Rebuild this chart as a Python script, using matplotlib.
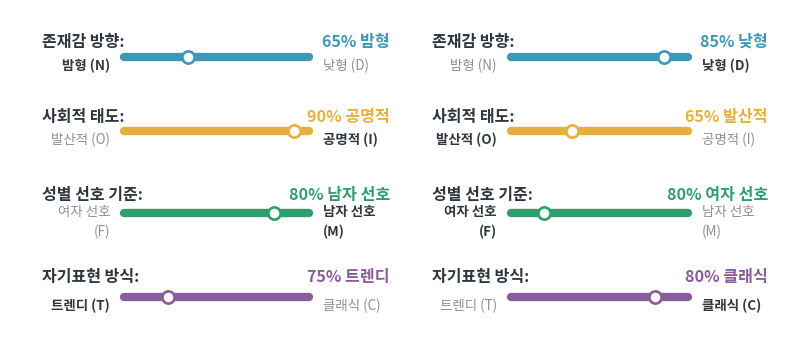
import matplotlib.pyplot as plt

plt.rcParams['font.family'] = ['Noto Sans CJK KR', 'DejaVu Sans']

# data
traits = ['존재감 방향:', '사회적 태도:', '성별 선호 기준:', '자기표현 방식:']
left_names = ['밤형', '발산적', '여자 선호', '트렌디']
right_names = ['낮형', '공명적', '남자 선호', '클래식']
left_codes = ['(N)', '(O)', '(F)', '(T)']
right_codes = ['(D)', '(I)', '(M)', '(C)']
colors = ['#3f97b5', '#e6b03c', '#2e9e6d', '#8a5c9b']

pct_a = [65, 90, 80, 75]
side_a = ['L', 'R', 'R', 'L']
pct_b = [85, 65, 80, 80]
side_b = ['R', 'L', 'L', 'R']

# layout in pixels
title_y = [42, 117, 195, 277]
bar_y = [57, 131, 213, 297]
panels = [
    dict(title_x=42, val_x=390, x0=120, x1=313, pct=pct_a, side=side_a),
    dict(title_x=432, val_x=768, x0=507, x1=692, pct=pct_b, side=side_b),
]

dark = '#2f3640'
grey = '#8c9096'

fig = plt.figure(figsize=(8, 3.5), dpi=100)
ax = fig.add_axes([0, 0, 1, 1])
ax.set_xlim(0, 800)
ax.set_ylim(350, 0)
ax.axis('off')

for p in panels:
    for i in range(4):
        c = colors[i]
        pct = p['pct'][i]
        side = p['side'][i]
        pos = pct / 100 if side == 'R' else 1 - pct / 100
        y = bar_y[i]
        r = 4
        ax.plot([p['x0'] + r, p['x1'] - r], [y, y], color=c, lw=6,
                solid_capstyle='round', zorder=2)
        mx = p['x0'] + pos * (p['x1'] - p['x0'])
        ax.plot([mx], [y], 'o', ms=8.8, mfc='white', mec=c, mew=1.9, zorder=3)

        ax.text(p['title_x'], title_y[i], traits[i], fontsize=11.5,
                fontweight='bold', color=dark, ha='left', va='center')
        name = left_names[i] if side == 'L' else right_names[i]
        ax.text(p['val_x'], title_y[i], f'{pct}% {name}', fontsize=11.6,
                fontweight='bold', color=c, ha='right', va='center')

        sep = '\n' if ' ' in left_names[i] else ' '
        ltxt = left_names[i] + sep + left_codes[i]
        rtxt = right_names[i] + sep + right_codes[i]
        lb = side == 'L'
        ax.text(p['x0'] - 10, y + 9, ltxt, fontsize=9.7, ha='right', va='center',
                color=dark if lb else grey, fontweight='bold' if lb else 'normal',
                linespacing=1.45)
        ax.text(p['x1'] + 10, y + 9, rtxt, fontsize=9.7, ha='left', va='center',
                color=grey if lb else dark, fontweight='normal' if lb else 'bold',
                linespacing=1.45)

fig.savefig('out.png', dpi=100, facecolor='white')
